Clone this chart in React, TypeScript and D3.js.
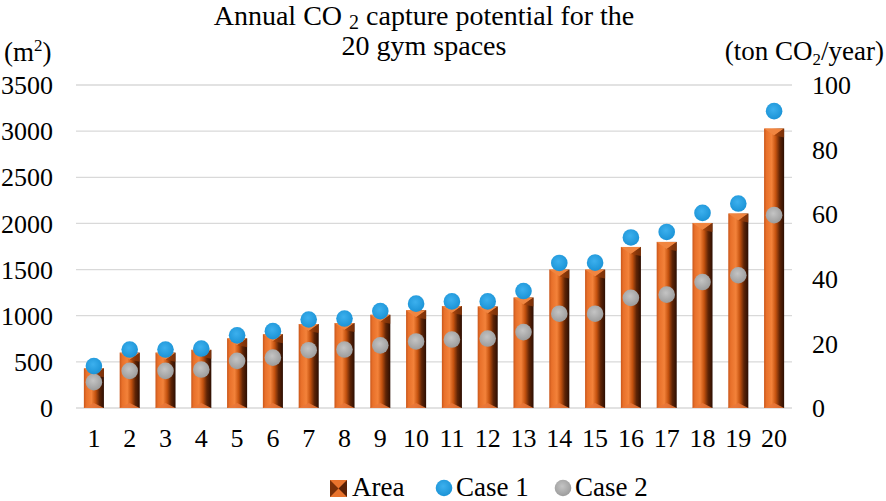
import React, { useEffect, useRef } from 'react';
import * as d3 from 'd3';

const categories = d3.range(1, 21).map(String);
const area = [430, 600, 600, 630, 755, 800, 910, 920, 1010, 1060, 1105, 1100, 1197, 1500, 1500, 1745, 1800, 2005, 2107, 3028];
const case1 = [13.0, 18.1, 18.1, 18.4, 22.5, 23.8, 27.4, 27.7, 30.0, 32.3, 33.0, 33.0, 36.2, 44.9, 45.0, 52.8, 54.5, 60.4, 63.3, 91.9];
const case2 = [8.0, 11.5, 11.5, 11.9, 14.6, 15.6, 17.9, 18.1, 19.4, 20.6, 21.2, 21.5, 23.5, 29.2, 29.2, 34.1, 35.1, 39.0, 41.1, 59.7];
const leftTicks = [0, 500, 1000, 1500, 2000, 2500, 3000, 3500];
const rightTicks = [0, 20, 40, 60, 80, 100];

const W = 886;
const H = 501;
const FONT = "'Liberation Serif', 'Times New Roman', serif";

const App: React.FC = () => {
  const svgRef = useRef<SVGSVGElement>(null);

  useEffect(() => {
    if (!svgRef.current) return;
    const svg = d3.select(svgRef.current);
    svg.selectAll('g.chart').remove();

    const margin = { left: 76, right: 94, top: 85, bottom: 93 };
    const x = d3.scaleBand<string>()
      .domain(categories)
      .range([margin.left, W - margin.right])
      .paddingInner(0.44)
      .paddingOuter(0.22);
    const yL = d3.scaleLinear().domain([0, 3500]).range([H - margin.bottom, margin.top]);
    const yR = d3.scaleLinear().domain([0, 100]).range([H - margin.bottom, margin.top]);

    const g = svg.append('g').attr('class', 'chart');

    // gridlines
    g.append('g')
      .selectAll('line')
      .data(leftTicks)
      .join('line')
      .attr('x1', margin.left)
      .attr('x2', W - margin.right)
      .attr('y1', d => yL(d))
      .attr('y2', d => yL(d))
      .attr('stroke', '#d9d9d9')
      .attr('stroke-width', 1.3);

    // left axis labels
    g.append('g')
      .selectAll('text')
      .data(leftTicks)
      .join('text')
      .attr('x', 53)
      .attr('y', d => yL(d))
      .attr('dy', '0.35em')
      .attr('text-anchor', 'end')
      .style('font-family', FONT)
      .attr('font-size', 26)
      .text(d => d);

    // right axis labels
    g.append('g')
      .selectAll('text')
      .data(rightTicks)
      .join('text')
      .attr('x', 812)
      .attr('y', d => yR(d))
      .attr('dy', '0.35em')
      .style('font-family', FONT)
      .attr('font-size', 26)
      .text(d => d);

    // x labels
    g.append('g')
      .selectAll('text')
      .data(categories)
      .join('text')
      .attr('x', d => x(d)! + x.bandwidth() / 2)
      .attr('y', 447)
      .attr('text-anchor', 'middle')
      .style('font-family', FONT)
      .attr('font-size', 26)
      .text(d => d);

    // bars
    const bw = x.bandwidth();
    const bars = g.append('g')
      .selectAll('g')
      .data(area.map((v, i) => ({ c: categories[i], v })))
      .join('g')
      .attr('transform', d => `translate(${x(d.c)},0)`);

    bars.append('rect')
      .attr('x', 0)
      .attr('y', d => yL(d.v))
      .attr('width', bw)
      .attr('height', d => yL(0) - yL(d.v))
      .attr('fill', 'url(#barGrad)');

    const bev = 7;
    bars.append('path')
      .attr('d', d => {
        const t = yL(d.v);
        return `M0,${t}L${bw},${t}L${bw / 2},${t + bev}Z`;
      })
      .attr('fill', '#f08540');
    bars.append('path')
      .attr('d', d => {
        const t = yL(d.v);
        return `M${bw / 2},${t + bev}L${bw},${t}L${bw},${t + bev + 2}Z`;
      })
      .attr('fill', '#9a3e0c')
      .attr('opacity', 0.7);
    bars.append('path')
      .attr('d', () => {
        const b = yL(0);
        return `M0,${b}L${bw},${b}L${bw / 2},${b - 5}Z`;
      })
      .attr('fill', '#e8773a')
      .attr('opacity', 0.9);

    // dots
    const dotLayer = g.append('g');
    dotLayer.selectAll('circle.c2')
      .data(case2.map((v, i) => ({ c: categories[i], v })))
      .join('circle')
      .attr('class', 'c2')
      .attr('cx', d => x(d.c)! + bw / 2)
      .attr('cy', d => yR(d.v))
      .attr('r', 8.3)
      .attr('fill', 'url(#grayGrad)');
    dotLayer.selectAll('circle.c1')
      .data(case1.map((v, i) => ({ c: categories[i], v })))
      .join('circle')
      .attr('class', 'c1')
      .attr('cx', d => x(d.c)! + bw / 2)
      .attr('cy', d => yR(d.v))
      .attr('r', 8.3)
      .attr('fill', 'url(#blueGrad)');

    // title (two lines in one text element)
    const title = g.append('text')
      .attr('x', 424)
      .attr('y', 25)
      .attr('text-anchor', 'middle')
      .style('font-family', FONT)
      .attr('font-size', 28);
    title.append('tspan').text('Annual CO ');
    title.append('tspan').attr('font-size', 20).attr('dy', 4).text('2');
    title.append('tspan').attr('dy', -4).text(' capture potential for the');
    title.append('tspan').attr('x', 424).attr('dy', 30).text('20 gym spaces');

    // axis units
    const lu = g.append('text').attr('x', 4).attr('y', 61).style('font-family', FONT).attr('font-size', 27);
    lu.append('tspan').text('(m');
    lu.append('tspan').attr('font-size', 17).attr('dy', -10).text('2');
    lu.append('tspan').attr('dy', 10).text(')');
    const ru = g.append('text').attr('x', 884).attr('y', 60).style('font-family', FONT).attr('font-size', 27).attr('text-anchor', 'end');
    ru.append('tspan').text('(ton CO');
    ru.append('tspan').attr('font-size', 17).attr('dy', 5).text('2');
    ru.append('tspan').attr('dy', -5).text('/year)');

    // legend
    const ly = 488;
    const leg = g.append('g');
    leg.append('rect').attr('x', 330).attr('y', ly - 8).attr('width', 17).attr('height', 17).attr('fill', '#e8732c');
    leg.append('path').attr('d', `M330,${ly - 8}L338.5,${ly + 0.5}L330,${ly + 9}Z`).attr('fill', '#7a3008');
    leg.append('path').attr('d', `M347,${ly - 8}L338.5,${ly + 0.5}L347,${ly + 9}Z`).attr('fill', '#5a2004');
    leg.append('text').attr('x', 352).attr('y', ly + 8).style('font-family', FONT).attr('font-size', 27).text('Area');
    leg.append('circle').attr('cx', 444).attr('cy', ly).attr('r', 8.3).attr('fill', 'url(#blueGrad)');
    leg.append('text').attr('x', 456).attr('y', ly + 8).style('font-family', FONT).attr('font-size', 27).text('Case 1');
    leg.append('circle').attr('cx', 563).attr('cy', ly).attr('r', 8.3).attr('fill', 'url(#grayGrad)');
    leg.append('text').attr('x', 575).attr('y', ly + 8).style('font-family', FONT).attr('font-size', 27).text('Case 2');
  }, []);

  return (
    <svg
      ref={svgRef}
      width={W}
      height={H}
      style={{ position: 'absolute', left: 0, top: 0, background: '#fff' }}
    >
      <defs>
        <linearGradient id="barGrad" x1="0%" y1="0%" x2="100%" y2="0%">
          <stop offset="0%" stopColor="#c9561a" />
          <stop offset="12%" stopColor="#e8702a" />
          <stop offset="38%" stopColor="#f3823a" />
          <stop offset="58%" stopColor="#c4520f" />
          <stop offset="78%" stopColor="#5e2406" />
          <stop offset="100%" stopColor="#2c0e02" />
        </linearGradient>
        <radialGradient id="blueGrad" cx="45%" cy="40%" r="60%">
          <stop offset="0%" stopColor="#3cb0ee" />
          <stop offset="100%" stopColor="#1b93d6" />
        </radialGradient>
        <radialGradient id="grayGrad" cx="45%" cy="40%" r="60%">
          <stop offset="0%" stopColor="#c4c4c4" />
          <stop offset="100%" stopColor="#9c9c9c" />
        </radialGradient>
      </defs>
    </svg>
  );
};

export default App;
